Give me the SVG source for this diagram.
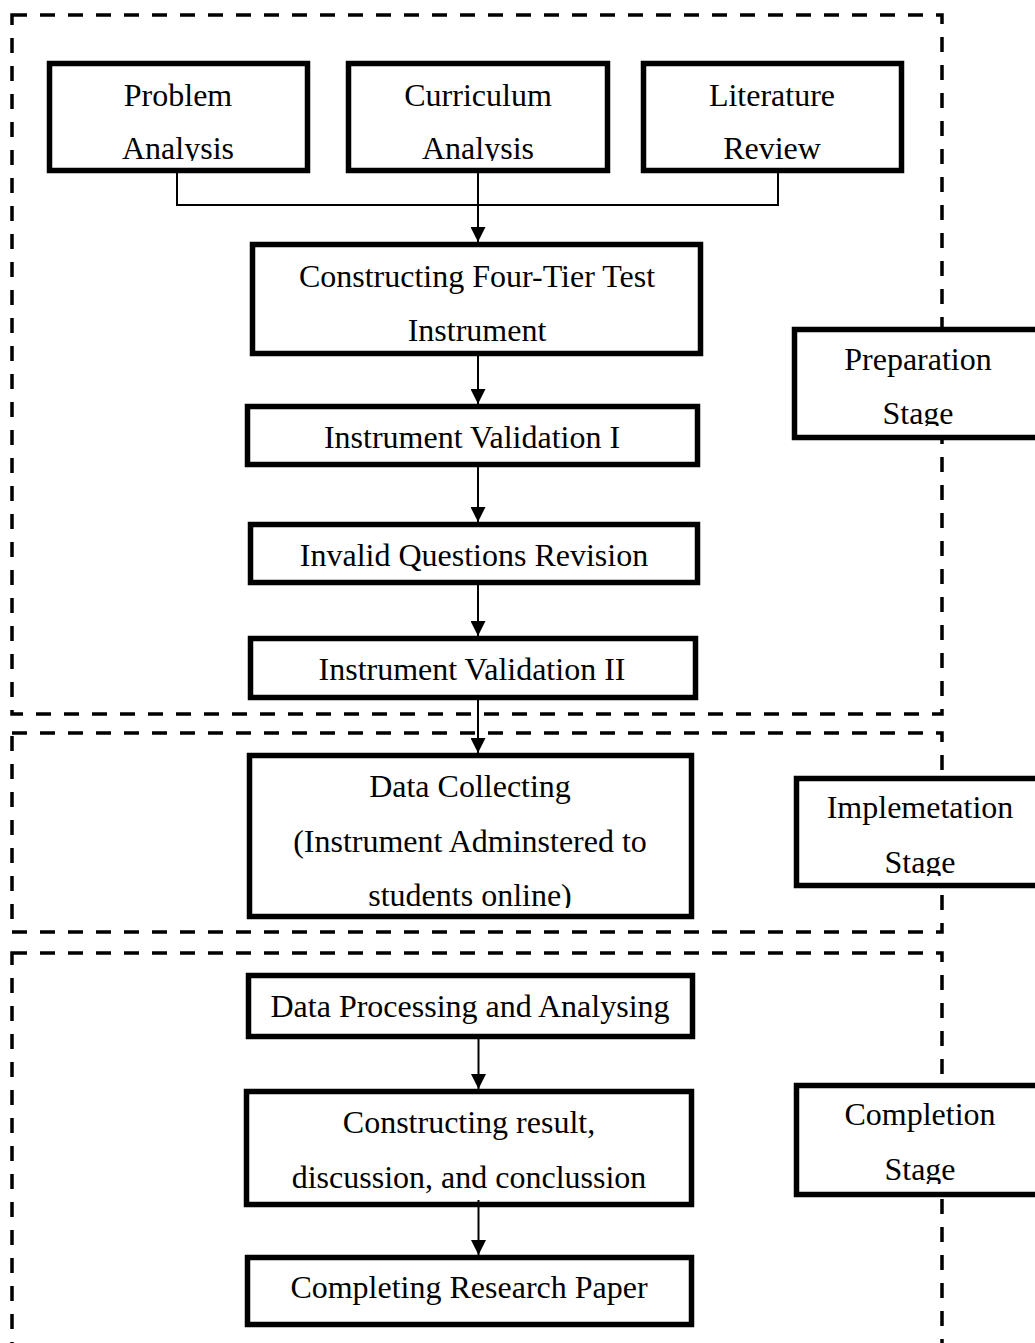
<svg xmlns="http://www.w3.org/2000/svg" width="1035" height="1343" viewBox="0 0 1035 1343">
<style>
.region{fill:none;stroke:#000;stroke-width:3.5;stroke-dasharray:15 13}
.box{fill:#fff;stroke:#000;stroke-width:5.5}
.t{font-family:"Liberation Serif","Times New Roman",serif;font-size:32px;fill:#000;text-anchor:middle}
.con{fill:none;stroke:#000;stroke-width:2}
</style>
<defs>
<marker id="ah" markerWidth="15" markerHeight="15" refX="15" refY="7.5" orient="auto" markerUnits="userSpaceOnUse">
<path d="M0,0 L15,7.5 L0,15 Z" fill="#000"/>
</marker>
<clipPath id="c1"><rect x="40" y="55" width="880" height="106"/></clipPath>
<clipPath id="cPrep"><rect x="790" y="320" width="260" height="106"/></clipPath>
<clipPath id="cImp"><rect x="790" y="770" width="260" height="106"/></clipPath>
<clipPath id="cComp"><rect x="790" y="1078" width="260" height="106"/></clipPath>
<clipPath id="cDC"><rect x="240" y="750" width="460" height="158"/></clipPath>
</defs>

<g id="regions">
<rect class="region" x="12" y="15" width="930" height="699"/>
<rect class="region" x="12" y="733" width="930" height="199"/>
<rect class="region" x="12" y="953" width="930" height="420"/>
</g>

<g id="problem-analysis">
<rect class="box" x="49.5" y="63.5" width="258" height="107"/>
<g clip-path="url(#c1)"><text class="t" x="178" y="106">Problem</text><text class="t" x="178" y="159">Analysis</text></g>
</g>
<g id="curriculum-analysis">
<rect class="box" x="348.5" y="63.5" width="259" height="107"/>
<g clip-path="url(#c1)"><text class="t" x="478" y="106">Curriculum</text><text class="t" x="478" y="159">Analysis</text></g>
</g>
<g id="literature-review">
<rect class="box" x="643.5" y="63.5" width="258" height="107"/>
<g clip-path="url(#c1)"><text class="t" x="772" y="106">Literature</text><text class="t" x="772" y="159">Review</text></g>
</g>

<g id="constructing-instrument">
<rect class="box" x="252.5" y="244.5" width="448" height="109"/>
<text class="t" x="477" y="287">Constructing Four-Tier Test</text>
<text class="t" x="477" y="341">Instrument</text>
</g>
<g id="validation-1">
<rect class="box" x="247.5" y="406.5" width="450" height="58"/>
<text class="t" x="472" y="448">Instrument Validation I</text>
</g>
<g id="revision">
<rect class="box" x="250.5" y="524.5" width="447" height="58"/>
<text class="t" x="474" y="566">Invalid Questions Revision</text>
</g>
<g id="validation-2">
<rect class="box" x="250.5" y="638.5" width="445" height="59"/>
<text class="t" x="472" y="680">Instrument Validation II</text>
</g>

<g id="preparation-stage">
<rect class="box" x="794.5" y="329.5" width="250" height="108"/>
<g clip-path="url(#cPrep)"><text class="t" x="918" y="370">Preparation</text><text class="t" x="918" y="424">Stage</text></g>
</g>

<g id="data-collecting">
<rect class="box" x="249.5" y="755.5" width="442" height="161"/>
<g clip-path="url(#cDC)"><text class="t" x="470" y="797">Data Collecting</text><text class="t" x="470" y="852">(Instrument Adminstered to</text><text class="t" x="470" y="906">students online)</text></g>
</g>
<g id="implementation-stage">
<rect class="box" x="796.5" y="778.5" width="250" height="107"/>
<g clip-path="url(#cImp)"><text class="t" x="920" y="818">Implemetation</text><text class="t" x="920" y="873">Stage</text></g>
</g>

<g id="data-processing">
<rect class="box" x="248.5" y="975.5" width="444" height="61"/>
<text class="t" x="470" y="1017">Data Processing and Analysing</text>
</g>
<g id="constructing-result">
<rect class="box" x="246.5" y="1091.5" width="445" height="113"/>
<text class="t" x="469" y="1133">Constructing result,</text>
<text class="t" x="469" y="1188">discussion, and conclussion</text>
</g>
<g id="completing-paper">
<rect class="box" x="247.5" y="1257.5" width="444" height="67"/>
<text class="t" x="469" y="1298">Completing Research Paper</text>
</g>
<g id="completion-stage">
<rect class="box" x="796.5" y="1085.5" width="250" height="109"/>
<g clip-path="url(#cComp)"><text class="t" x="920" y="1125">Completion</text><text class="t" x="920" y="1180">Stage</text></g>
</g>

<g id="connectors">
<path class="con" d="M177,173 V205 H778 V173"/>
<path class="con" d="M478,173 V242" marker-end="url(#ah)"/>
<path class="con" d="M478,356 V404" marker-end="url(#ah)"/>
<path class="con" d="M478,467 V522" marker-end="url(#ah)"/>
<path class="con" d="M478,585 V636" marker-end="url(#ah)"/>
<path class="con" d="M478,700 V753" marker-end="url(#ah)"/>
<path class="con" d="M478.5,1039 V1089" marker-end="url(#ah)"/>
<path class="con" d="M478.5,1200 V1255" marker-end="url(#ah)"/>
</g>
</svg>
